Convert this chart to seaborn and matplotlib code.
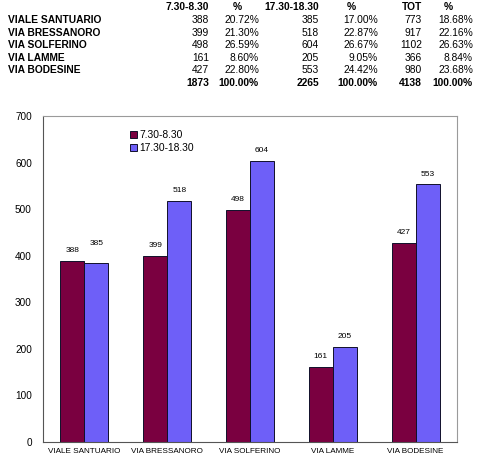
import pandas as pd
import numpy as np
import seaborn as sns
import matplotlib.pyplot as plt

strade = ['VIALE SANTUARIO', 'VIA BRESSANORO', 'VIA SOLFERINO', 'VIA LAMME', 'VIA BODESINE']
fasce = ['7.30-8.30', '17.30-18.30']
mattina = [388, 399, 498, 161, 427]
sera = [385, 518, 604, 205, 553]
perc_mattina = ['20.72%', '21.30%', '26.59%', '8.60%', '22.80%']
perc_sera = ['17.00%', '22.87%', '26.67%', '9.05%', '24.42%']
totali = [773, 917, 1102, 366, 980]
perc_tot = ['18.68%', '22.16%', '26.63%', '8.84%', '23.68%']
somme = ['1873', '100.00%', '2265', '100.00%', '4138', '100.00%']
intestazioni = ['7.30-8.30', '%', '17.30-18.30', '%', 'TOT', '%']

df = pd.DataFrame({
    'Strada': strade * 2,
    'Fascia': [fasce[0]] * 5 + [fasce[1]] * 5,
    'Veicoli': mattina + sera,
})

sns.set_style('white')
plt.rcParams['font.family'] = ['Liberation Sans', 'DejaVu Sans']
plt.rcParams['text.color'] = 'black'
plt.rcParams['xtick.color'] = 'black'
plt.rcParams['ytick.color'] = 'black'

W, H = 481, 461
fig = plt.figure(figsize=(W / 100, H / 100), dpi=100)

# --- tabella in alto ---
col_x = [209, 259, 319, 378, 422, 473]
head_x = [(209, 'right'), (237, 'center'), (319, 'right'), (351, 'center'),
          (422, 'right'), (448, 'center')]
row_y = [20, 33, 45, 58, 70]
fs = 7.4
for (x, al), t in zip(head_x, intestazioni):
    fig.text(x / W, 1 - 7 / H, t, ha=al, va='center', fontsize=fs, fontweight='bold')
for i, nome in enumerate(strade):
    y = 1 - row_y[i] / H
    fig.text(8 / W, y, nome, ha='left', va='center', fontsize=fs, fontweight='bold')
    valori = [str(mattina[i]), perc_mattina[i], str(sera[i]), perc_sera[i],
              str(totali[i]), perc_tot[i]]
    for x, t in zip(col_x, valori):
        fig.text(x / W, y, t, ha='right', va='center', fontsize=fs)
for x, t in zip(col_x, somme):
    fig.text(x / W, 1 - 83 / H, t, ha='right', va='center', fontsize=fs, fontweight='bold')

# --- grafico ---
ax = fig.add_axes([43 / W, 1 - 442 / H, (457 - 43) / W, (442 - 116) / H])
sns.barplot(data=df, x='Strada', y='Veicoli', hue='Fascia', hue_order=fasce,
            order=strade, palette=['#7a0040', '#6e5ff8'], saturation=1, width=0.58,
            edgecolor='#10102a', linewidth=0.7, ax=ax)

etichette = []
for cont in ax.containers:
    etichette.append(ax.bar_label(cont, labels=[f'{int(v)}' for v in cont.datavalues],
                                  padding=5, fontsize=6))
# in Excel l'etichetta 385 e' spostata piu' in alto per non sovrapporsi a 388
etichette[1][0].xyann = (0, 11)

ax.set_ylim(0, 700)
ax.set_yticks(np.arange(0, 701, 100))
ax.set_xlabel('')
ax.set_ylabel('')
ax.tick_params(axis='y', labelsize=7.2, length=0, pad=8)
ax.tick_params(axis='x', labelsize=5.9, length=0, pad=4)
for s in ['top', 'right']:
    ax.spines[s].set_color('#9a9a9a')
    ax.spines[s].set_linewidth(0.8)
for s in ['left', 'bottom']:
    ax.spines[s].set_color('#555555')
    ax.spines[s].set_linewidth(0.8)

leg = ax.legend(loc='upper left', bbox_to_anchor=(0.2, 0.97), frameon=False,
                fontsize=7.4, handlelength=0.7, handleheight=0.7,
                handletextpad=0.2, labelspacing=0.3, borderaxespad=0)

fig.savefig('out.png', dpi=100)
